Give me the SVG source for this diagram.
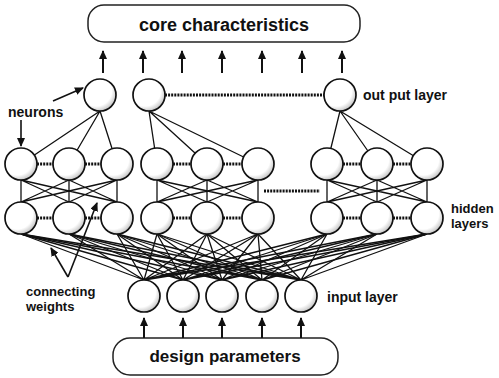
<svg xmlns="http://www.w3.org/2000/svg" width="499" height="378" viewBox="0 0 499 378">
  <style>
    .box { fill: #fff; stroke: #222; stroke-width: 1.5; }
    .title { font-family: "Liberation Sans", Arial, sans-serif; font-weight: bold; fill: #111; text-anchor: middle; }
    .label { font-family: "Liberation Sans", Arial, sans-serif; font-weight: bold; font-size: 14px; fill: #111; }
    .small { font-size: 13px; }
    .neuron { fill: url(#shade); stroke: #111; stroke-width: 1.7; }
    .link { fill: none; stroke: #111; stroke-width: 1.3; }
    .chain { stroke: #111; stroke-width: 3.2; stroke-dasharray: 2 1.1; }
    .arrow { stroke: #111; stroke-width: 2; marker-end: url(#head); }
    .pointer { stroke: #111; stroke-width: 1.6; marker-end: url(#head); }
  </style>
  <defs>
    <radialGradient id="shade" cx="0.4" cy="0.38" r="0.68" fx="0.32" fy="0.3">
      <stop offset="0" stop-color="#fff"/>
      <stop offset="0.72" stop-color="#fff"/>
      <stop offset="1" stop-color="#b8b8b8"/>
    </radialGradient>
    <marker id="head" markerUnits="userSpaceOnUse" markerWidth="9" markerHeight="8" refX="8" refY="4" orient="auto">
      <path d="M0,0 L9,4 L0,8 z" fill="#111"/>
    </marker>
  </defs>

  <!-- boxes -->
  <g id="core-characteristics">
    <rect class="box" x="88" y="5" width="272" height="37" rx="16"/>
    <text class="title" x="224" y="31" font-size="18">core characteristics</text>
  </g>
  <g id="design-parameters">
    <rect class="box" x="113" y="338" width="225" height="37" rx="17"/>
    <text class="title" x="225" y="362" font-size="17">design parameters</text>
  </g>

  <!-- connectors -->
  <g id="connectors">
    <!-- output arrows -->
    <line class="arrow" x1="103" y1="73" x2="103" y2="51"/>
    <line class="arrow" x1="143" y1="73" x2="143" y2="51"/>
    <line class="arrow" x1="182" y1="73" x2="182" y2="51"/>
    <line class="arrow" x1="222" y1="73" x2="222" y2="51"/>
    <line class="arrow" x1="262" y1="73" x2="262" y2="51"/>
    <line class="arrow" x1="302" y1="73" x2="302" y2="51"/>
    <line class="arrow" x1="342" y1="73" x2="342" y2="51"/>
    <!-- input arrows -->
    <line class="arrow" x1="144" y1="338" x2="144" y2="318"/>
    <line class="arrow" x1="183" y1="338" x2="183" y2="318"/>
    <line class="arrow" x1="222" y1="338" x2="222" y2="318"/>
    <line class="arrow" x1="262" y1="338" x2="262" y2="318"/>
    <line class="arrow" x1="301" y1="338" x2="301" y2="318"/>

    <!-- output to first hidden layer -->
    <path class="link" d="M100,111 L21,164 M100,111 L69,164 M100,111 L117,164"/>
    <path class="link" d="M149,111 L157,164 M149,111 L207,164 M149,111 L258,164"/>
    <path class="link" d="M340,111 L327,164 M340,111 L377,164 M340,111 L427,164"/>

    <!-- hidden layer to hidden layer -->
    <path class="link" d="M21,180 L21,202 M21,180 L69,202 M21,180 L117,202 M69,180 L21,202 M69,180 L69,202 M69,180 L117,202 M117,180 L21,202 M117,180 L69,202 M117,180 L117,202"/>
    <path class="link" d="M157,180 L157,202 M157,180 L207,202 M157,180 L258,202 M207,180 L157,202 M207,180 L207,202 M207,180 L258,202 M258,180 L157,202 M258,180 L207,202 M258,180 L258,202"/>
    <path class="link" d="M327,180 L327,202 M327,180 L377,202 M327,180 L427,202 M377,180 L327,202 M377,180 L377,202 M377,180 L427,202 M427,180 L327,202 M427,180 L377,202 M427,180 L427,202"/>

    <!-- input layer to second hidden layer -->
    <path class="link" d="M144,280 L21,234 M144,280 L69,234 M144,280 L117,234 M144,280 L157,234 M144,280 L207,234 M144,280 L258,234 M144,280 L327,234 M144,280 L377,234 M144,280 L427,234"/>
    <path class="link" d="M183,280 L21,234 M183,280 L69,234 M183,280 L117,234 M183,280 L157,234 M183,280 L207,234 M183,280 L258,234 M183,280 L327,234 M183,280 L377,234 M183,280 L427,234"/>
    <path class="link" d="M222,280 L21,234 M222,280 L69,234 M222,280 L117,234 M222,280 L157,234 M222,280 L207,234 M222,280 L258,234 M222,280 L327,234 M222,280 L377,234 M222,280 L427,234"/>
    <path class="link" d="M262,280 L21,234 M262,280 L69,234 M262,280 L117,234 M262,280 L157,234 M262,280 L207,234 M262,280 L258,234 M262,280 L327,234 M262,280 L377,234 M262,280 L427,234"/>
    <path class="link" d="M301,280 L21,234 M301,280 L69,234 M301,280 L117,234 M301,280 L157,234 M301,280 L207,234 M301,280 L258,234 M301,280 L327,234 M301,280 L377,234 M301,280 L427,234"/>

    <!-- lateral chains within rows -->
    <line class="chain" x1="37" y1="164" x2="53" y2="164"/>
    <line class="chain" x1="85" y1="164" x2="101" y2="164"/>
    <line class="chain" x1="37" y1="218" x2="53" y2="218"/>
    <line class="chain" x1="85" y1="218" x2="101" y2="218"/>
    <line class="chain" x1="173" y1="164" x2="191" y2="164"/>
    <line class="chain" x1="223" y1="164" x2="242" y2="164"/>
    <line class="chain" x1="173" y1="218" x2="191" y2="218"/>
    <line class="chain" x1="223" y1="218" x2="242" y2="218"/>
    <line class="chain" x1="343" y1="164" x2="361" y2="164"/>
    <line class="chain" x1="393" y1="164" x2="411" y2="164"/>
    <line class="chain" x1="343" y1="218" x2="361" y2="218"/>
    <line class="chain" x1="393" y1="218" x2="411" y2="218"/>
    <!-- elided neurons -->
    <line class="chain" x1="165" y1="95" x2="324" y2="95" stroke-width="2.6"/>
    <line class="chain" x1="264" y1="191" x2="320" y2="191" stroke-width="2.6"/>

    <!-- annotation pointers -->
    <line class="pointer" x1="21" y1="120" x2="21" y2="146"/>
    <line class="pointer" x1="53" y1="101" x2="83" y2="88"/>
    <line class="pointer" x1="68" y1="277" x2="51" y2="248"/>
    <line class="pointer" x1="68" y1="277" x2="97" y2="203"/>
  </g>

  <!-- output layer -->
  <g id="out-1"><circle class="neuron" cx="100" cy="95" r="16"/></g>
  <g id="out-2"><circle class="neuron" cx="149" cy="95" r="16"/></g>
  <g id="out-3"><circle class="neuron" cx="340" cy="95" r="16"/></g>

  <!-- hidden layer, upper row -->
  <g id="h1-1"><circle class="neuron" cx="21" cy="164" r="16"/></g>
  <g id="h1-2"><circle class="neuron" cx="69" cy="164" r="16"/></g>
  <g id="h1-3"><circle class="neuron" cx="117" cy="164" r="16"/></g>
  <g id="h1-4"><circle class="neuron" cx="157" cy="164" r="16"/></g>
  <g id="h1-5"><circle class="neuron" cx="207" cy="164" r="16"/></g>
  <g id="h1-6"><circle class="neuron" cx="258" cy="164" r="16"/></g>
  <g id="h1-7"><circle class="neuron" cx="327" cy="164" r="16"/></g>
  <g id="h1-8"><circle class="neuron" cx="377" cy="164" r="16"/></g>
  <g id="h1-9"><circle class="neuron" cx="427" cy="164" r="16"/></g>

  <!-- hidden layer, lower row -->
  <g id="h2-1"><circle class="neuron" cx="21" cy="218" r="16"/></g>
  <g id="h2-2"><circle class="neuron" cx="69" cy="218" r="16"/></g>
  <g id="h2-3"><circle class="neuron" cx="117" cy="218" r="16"/></g>
  <g id="h2-4"><circle class="neuron" cx="157" cy="218" r="16"/></g>
  <g id="h2-5"><circle class="neuron" cx="207" cy="218" r="16"/></g>
  <g id="h2-6"><circle class="neuron" cx="258" cy="218" r="16"/></g>
  <g id="h2-7"><circle class="neuron" cx="327" cy="218" r="16"/></g>
  <g id="h2-8"><circle class="neuron" cx="377" cy="218" r="16"/></g>
  <g id="h2-9"><circle class="neuron" cx="427" cy="218" r="16"/></g>

  <!-- input layer -->
  <g id="in-1"><circle class="neuron" cx="144" cy="296" r="16"/></g>
  <g id="in-2"><circle class="neuron" cx="183" cy="296" r="16"/></g>
  <g id="in-3"><circle class="neuron" cx="222" cy="296" r="16"/></g>
  <g id="in-4"><circle class="neuron" cx="262" cy="296" r="16"/></g>
  <g id="in-5"><circle class="neuron" cx="301" cy="296" r="16"/></g>

  <!-- labels -->
  <g id="labels">
    <text class="label" x="8" y="117">neurons</text>
    <text class="label" x="363" y="100">out put layer</text>
    <text class="label small" x="451" y="213">hidden</text>
    <text class="label small" x="451" y="228">layers</text>
    <text class="label" x="327" y="302">input layer</text>
    <text class="label small" x="26" y="296">connecting</text>
    <text class="label small" x="26" y="311">weights</text>
  </g>
</svg>
